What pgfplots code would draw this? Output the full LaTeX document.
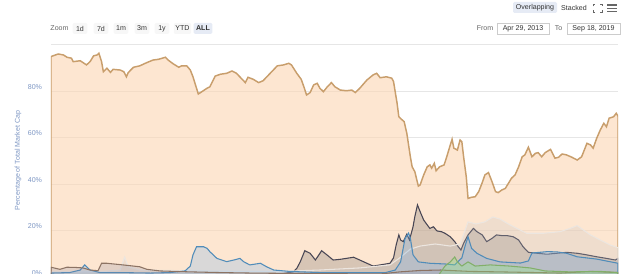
\documentclass[border=0pt]{standalone}
\usepackage{pgfplots}
\pgfplotsset{compat=1.18}
\usepackage{fontspec}
\setmainfont{Liberation Sans}
\definecolor{btcline}{RGB}{200,158,108}
\definecolor{btcfill}{RGB}{252,214,180}
\definecolor{ethline}{RGB}{72,70,84}
\definecolor{ethfill}{RGB}{67,67,72}
\definecolor{othline}{RGB}{236,230,224}
\definecolor{othfill}{RGB}{190,190,195}
\definecolor{xrpline}{RGB}{80,140,185}
\definecolor{xrpfill}{RGB}{124,181,236}
\definecolor{ltcline}{RGB}{140,115,100}
\definecolor{ltcfill}{RGB}{128,133,160}
\definecolor{bchline}{RGB}{130,175,105}
\definecolor{bchfill}{RGB}{144,237,125}
\definecolor{gridc}{RGB}{230,230,230}
\definecolor{tickc}{RGB}{125,150,195}
\definecolor{btnbg}{RGB}{247,247,247}
\definecolor{selbg}{RGB}{230,235,245}
\definecolor{txtgray}{RGB}{102,102,102}
\definecolor{txtdark}{RGB}{51,51,51}
\definecolor{boxc}{RGB}{204,204,204}
\newcommand{\hdr}{\fontsize{5.3pt}{6.3pt}\selectfont}
\begin{document}
\begin{tikzpicture}
\path[use as bounding box] (0,0) rectangle (480pt,205.5pt);
\begin{axis}[
  at={(38.25pt,-2.25pt)}, anchor=south west, scale only axis,
  width=425.25pt, height=174.75pt,
  xmin=2013.33, xmax=2019.72, ymin=0, ymax=100.2,
  axis line style={draw=none}, xtick=\empty,
  ytick={0,20,40,60,80}, yticklabels={0\%,20\%,40\%,60\%,80\%},
  extra y ticks={100}, extra y tick labels={},
  ymajorgrids, grid style={draw=gridc, line width=0.5pt},
  extra y tick style={grid style={draw=gridc, line width=0.5pt}},
  major tick length=0pt,
  yticklabel style={font=\hdr, text=tickc, xshift=-3.2pt, yshift=3pt},
  ylabel={Percentage of Total Market Cap},
  ylabel style={font=\hdr, text=tickc, at={(axis description cs:-0.058,0.5)}, anchor=center},
  clip=true,
]
% Bitcoin
\addplot[draw=btcline, line width=1.1pt, fill=btcfill, fill opacity=0.62, draw opacity=1] coordinates {
(2013.33,94.8)(2013.41,95.9)(2013.47,95.5)(2013.51,94.5)(2013.56,94.1)(2013.58,92.6)(2013.66,93.0)(2013.73,91.2)(2013.77,92.6)(2013.81,95.1)(2013.85,95.5)(2013.87,96.2)(2013.90,92.6)(2013.92,88.3)(2013.96,89.8)(2014.00,88.0)(2014.03,89.3)(2014.11,89.0)(2014.15,88.3)(2014.18,86.1)(2014.20,87.9)(2014.26,90.2)(2014.33,90.8)(2014.41,92.2)(2014.48,93.3)(2014.54,93.6)(2014.62,94.5)(2014.65,93.3)(2014.71,91.6)(2014.77,90.2)(2014.80,90.8)(2014.86,90.8)(2014.90,89.0)(2014.93,86.1)(2014.99,78.7)(2015.03,79.7)(2015.09,81.2)(2015.12,81.8)(2015.18,86.4)(2015.24,87.2)(2015.31,87.6)(2015.37,88.6)(2015.42,87.6)(2015.52,83.6)(2015.55,85.9)(2015.61,85.0)(2015.67,83.6)(2015.72,84.4)(2015.80,87.6)(2015.88,90.8)(2015.95,91.2)(2016.01,91.9)(2016.04,91.2)(2016.10,87.6)(2016.15,85.0)(2016.18,81.8)(2016.21,78.3)(2016.25,79.3)(2016.29,82.6)(2016.33,83.3)(2016.36,81.2)(2016.40,79.7)(2016.44,81.6)(2016.49,83.6)(2016.53,81.8)(2016.59,80.4)(2016.66,80.1)(2016.72,80.4)(2016.76,79.3)(2016.81,81.2)(2016.89,84.7)(2016.96,86.9)(2017.00,87.6)(2017.04,85.7)(2017.11,86.1)(2017.17,85.5)(2017.19,84.1)(2017.23,74.8)(2017.25,68.9)(2017.28,67.8)(2017.31,66.8)(2017.34,61.8)(2017.38,51.7)(2017.40,47.4)(2017.43,45.3)(2017.47,39.1)(2017.49,39.6)(2017.53,43.9)(2017.57,47.4)(2017.60,48.2)(2017.62,46.8)(2017.65,48.9)(2017.67,45.7)(2017.71,47.4)(2017.76,48.2)(2017.79,51.7)(2017.83,56.8)(2017.85,59.2)(2017.87,55.4)(2017.91,54.6)(2017.94,58.9)(2017.96,58.2)(2017.98,51.7)(2018.01,43.1)(2018.03,33.8)(2018.07,34.3)(2018.11,34.5)(2018.15,36.7)(2018.19,40.6)(2018.22,43.9)(2018.26,44.9)(2018.30,41.0)(2018.34,36.7)(2018.37,36.3)(2018.41,37.4)(2018.45,38.1)(2018.49,40.6)(2018.52,42.5)(2018.56,43.9)(2018.60,47.4)(2018.64,51.7)(2018.67,52.5)(2018.71,55.8)(2018.75,51.7)(2018.79,53.2)(2018.82,53.5)(2018.86,51.7)(2018.90,53.5)(2018.96,54.9)(2019.01,51.1)(2019.05,51.5)(2019.09,52.9)(2019.14,52.5)(2019.20,51.5)(2019.26,50.3)(2019.31,51.7)(2019.37,57.5)(2019.41,56.8)(2019.44,55.4)(2019.48,59.7)(2019.52,63.2)(2019.56,66.1)(2019.59,64.6)(2019.62,68.3)(2019.67,68.9)(2019.70,70.4)(2019.72,69.2)
} \closedcycle;
% Ethereum
\addplot[draw=ethline, line width=0.8pt, fill=ethfill, fill opacity=0.2, draw opacity=1] coordinates {
(2015.46,0.6)(2015.91,1.3)(2016.06,2.2)(2016.10,3.7)(2016.14,6.6)(2016.19,11.3)(2016.25,10.2)(2016.31,7.3)(2016.38,11.3)(2016.44,9.5)(2016.51,7.3)(2016.59,7.6)(2016.74,8.5)(2016.85,6.6)(2016.96,4.7)(2017.04,5.2)(2017.15,5.9)(2017.19,8.2)(2017.22,13.8)(2017.25,18.1)(2017.27,15.9)(2017.30,15.2)(2017.34,18.4)(2017.37,15.9)(2017.41,21.6)(2017.43,25.9)(2017.46,31.0)(2017.49,28.1)(2017.53,24.5)(2017.57,22.4)(2017.60,20.9)(2017.64,21.6)(2017.68,19.8)(2017.73,19.5)(2017.77,18.8)(2017.83,17.3)(2017.88,15.2)(2017.92,13.0)(2017.95,11.6)(2017.98,14.5)(2018.03,18.1)(2018.09,20.9)(2018.13,19.5)(2018.19,18.1)(2018.24,15.2)(2018.30,16.6)(2018.35,18.1)(2018.41,17.8)(2018.47,17.8)(2018.54,17.3)(2018.60,15.9)(2018.65,13.0)(2018.71,10.6)(2018.81,10.2)(2018.92,9.8)(2019.03,10.2)(2019.14,10.6)(2019.26,10.2)(2019.37,9.5)(2019.48,8.7)(2019.59,8.0)(2019.69,7.3)(2019.72,8.0)
} \closedcycle;
% Others
\addplot[draw=othline, line width=0.8pt, fill=othfill, fill opacity=0.22, draw opacity=1] coordinates {
(2013.33,2.2)(2013.88,2.2)(2014.11,3.0)(2014.16,8.6)(2014.20,4.4)(2014.33,3.0)(2015.01,2.6)(2015.46,2.4)(2015.91,2.4)(2016.36,3.0)(2016.81,3.9)(2017.15,5.2)(2017.26,8.2)(2017.38,12.0)(2017.49,13.3)(2017.66,14.2)(2017.83,13.3)(2017.94,14.2)(2017.99,19.4)(2018.03,23.7)(2018.12,22.8)(2018.22,23.7)(2018.31,25.8)(2018.39,24.9)(2018.47,23.1)(2018.58,20.9)(2018.69,18.8)(2018.88,18.8)(2019.07,19.5)(2019.18,20.9)(2019.26,22.1)(2019.33,20.2)(2019.41,18.1)(2019.52,15.9)(2019.63,13.8)(2019.72,12.6)
} \closedcycle;
% XRP
\addplot[draw=xrpline, line width=0.8pt, fill=xrpfill, fill opacity=0.28, draw opacity=1] coordinates {
(2013.33,1.7)(2013.54,1.9)(2013.66,3.0)(2013.71,5.2)(2013.77,3.0)(2013.88,1.9)(2014.11,1.9)(2014.45,1.7)(2014.67,1.9)(2014.84,2.6)(2014.90,4.7)(2014.93,9.5)(2014.97,13.0)(2015.05,13.0)(2015.09,12.3)(2015.12,10.9)(2015.20,8.0)(2015.31,6.6)(2015.39,7.3)(2015.46,8.0)(2015.50,6.6)(2015.57,5.2)(2015.69,5.9)(2015.76,4.4)(2015.84,3.0)(2016.02,2.4)(2016.36,1.9)(2016.81,1.9)(2017.10,1.9)(2017.21,3.0)(2017.27,6.5)(2017.32,16.6)(2017.36,18.9)(2017.38,16.6)(2017.41,9.5)(2017.47,6.5)(2017.60,5.9)(2017.77,5.6)(2017.88,5.2)(2017.96,8.2)(2018.00,13.8)(2018.03,17.3)(2018.07,12.3)(2018.13,10.2)(2018.24,8.0)(2018.39,6.5)(2018.62,6.0)(2018.71,6.9)(2018.75,10.3)(2018.92,10.9)(2019.03,10.8)(2019.14,10.2)(2019.26,8.7)(2019.48,7.7)(2019.72,5.9)
} \closedcycle;
% Litecoin
\addplot[draw=ltcline, line width=0.8pt, fill=ltcfill, fill opacity=0.22, draw opacity=1] coordinates {
(2013.33,4.2)(2013.43,3.3)(2013.51,4.2)(2013.61,4.1)(2013.69,3.9)(2013.77,3.0)(2013.86,2.7)(2013.90,5.9)(2013.96,5.9)(2014.14,5.2)(2014.33,4.4)(2014.41,3.3)(2014.56,2.6)(2014.90,2.2)(2015.24,1.9)(2015.57,1.7)(2016.14,1.5)(2017.04,1.3)(2017.26,2.2)(2017.49,2.8)(2017.72,3.0)(2018.05,2.4)(2018.39,2.2)(2019.07,1.7)(2019.41,2.4)(2019.72,1.9)
} \closedcycle;
% Bitcoin Cash
\addplot[draw=bchline, line width=0.8pt, fill=bchfill, fill opacity=0.3, draw opacity=1] coordinates {
(2017.70,0.9)(2017.77,4.7)(2017.83,6.5)(2017.88,8.6)(2017.91,6.5)(2017.96,4.7)(2018.03,6.5)(2018.11,4.7)(2018.28,5.2)(2018.50,4.7)(2018.73,3.9)(2018.90,2.6)(2019.18,2.2)(2019.52,2.4)(2019.72,1.9)
} \closedcycle;
\end{axis}
\begin{scope}[x=0.75pt,y=-0.75pt,shift={(0pt,205.5pt)}, font=\hdr]
\tikzset{btn/.style={fill=btnbg, rounded corners=1pt, inner sep=0pt, minimum height=8.25pt, text=txtdark}}
\node[text=txtgray] at (59.5,28.5) {Zoom};
\node[btn, minimum width=11pt] at (80,28.5) {1d};
\node[btn, minimum width=11pt] at (101,28.5) {7d};
\node[btn, minimum width=11pt] at (121,28.5) {1m};
\node[btn, minimum width=11pt] at (142,28.5) {3m};
\node[btn, minimum width=11pt] at (162,28.5) {1y};
\node[btn, minimum width=13pt] at (182.5,28.5) {YTD};
\node[btn, fill=selbg, minimum width=14pt, font=\hdr\bfseries] at (203,28.5) {ALL};
\node[fill=selbg, rounded corners=1pt, inner sep=0pt, minimum height=8.25pt, minimum width=33pt, text=txtdark] at (535,7.5) {Overlapping};
\node[text=txtdark] at (574,7.5) {Stacked};
\draw[txtgray, line width=0.5pt] (593,6.5)--(593,4.5)--(595,4.5) (600,4.5)--(602,4.5)--(602,6.5) (602,10)--(602,12)--(600,12) (595,12)--(593,12)--(593,10);
\draw[txtgray, line width=1pt] (607,5)--(617,5) (607,8.2)--(617,8.2) (607,11.4)--(617,11.4);
\node[text=txtgray] at (485,28.5) {From};
\draw[boxc, line width=0.5pt, fill=white] (497,23)rectangle(549,34);
\node[text=txtdark] at (523,28.5) {Apr 29, 2013};
\node[text=txtgray] at (558.5,28.5) {To};
\draw[boxc, line width=0.5pt, fill=white] (567,23)rectangle(620,34);
\node[text=txtdark] at (593.5,28.5) {Sep 18, 2019};
\end{scope}
\end{tikzpicture}
\end{document}
